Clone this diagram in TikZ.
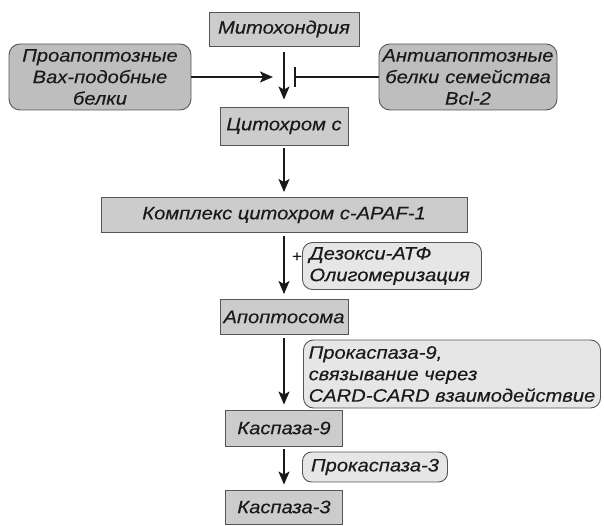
\documentclass[tikz,border=0pt]{standalone}
\usepackage{fontspec}
\setmainfont{Liberation Sans}[FakeStretch=1.12, FakeBold=0.3]
\usepackage{xcolor}
\usepackage{tikz}
\usetikzlibrary{arrows.meta}
\definecolor{boxfill}{HTML}{CCCCCC}
\definecolor{sidefill}{HTML}{BEBEBE}
\definecolor{notefill}{HTML}{E6E6E6}
\definecolor{edge}{HTML}{555555}
\definecolor{ink}{HTML}{1A1A1A}

\tikzset{
  stage/.style={draw=edge, fill=boxfill, line width=0.9pt, inner sep=0pt, text=ink},
  sidepill/.style={draw=edge, fill=sidefill, line width=0.9pt, rounded corners=11pt,
    inner xsep=3pt, inner ysep=0pt, align=center, text=ink},
  notepill/.style={draw=edge, fill=notefill, line width=0.9pt, rounded corners=10pt,
    inner ysep=0pt, align=left, text=ink},
  flow/.style={draw=ink, line width=1.8pt, -{Stealth[length=13pt,width=11pt,inset=3pt]},
    shorten <=3pt, shorten >=5pt},
  inhibit/.style={draw=ink, line width=1.8pt, -{Bar[width=20pt,line width=1.8pt]}}
}

\begin{document}
\begin{tikzpicture}[x=1pt,y=-1pt, font=\fontsize{18}{21.5}\selectfont\itshape]
\useasboundingbox (0,0) rectangle (604,526);
% main pathway
\node[stage, minimum width=150pt, minimum height=34pt] (mito) at (284,29) {Митохондрия};
\node[stage, minimum width=128pt, minimum height=38pt] (cytc) at (284,126) {Цитохром с};
\node[stage, minimum width=366pt, minimum height=35pt] (complex) at (284,215) {Комплекс цитохром с-APAF-1};
\node[stage, minimum width=128pt, minimum height=35pt] (apopt) at (284,317) {Апоптосома};
\node[stage, minimum width=117pt, minimum height=36pt] (casp9) at (284,428) {Каспаза-9};
\node[stage, minimum width=117pt, minimum height=34pt] (casp3) at (284,507) {Каспаза-3};
% regulators
\node[sidepill, text width=176pt, minimum height=66pt] (pro) at (100,77) {Проапоптозные\\Вах-подобные\\белки};
\node[sidepill, text width=172pt, minimum height=66pt] (anti) at (468,77) {Антиапоптозные\\белки семейства\\Bcl-2};
\coordinate (merge) at (273,77);
\coordinate (block) at (294,77);
% side conditions
\node[notepill, text width=165pt, inner xsep=7pt, minimum height=47pt] (dezoxy) at (392,266) {Дезокси-АТФ\\Олигомеризация};
\node[notepill, inner xsep=1pt, minimum width=297pt, minimum height=68pt] (procasp9) at (452,374) {Прокаспаза-9,\\связывание через\\CARD-CARD взаимодействие};
\node[notepill, align=center, inner xsep=0pt, minimum width=145pt, minimum height=30pt, rounded corners=9pt] (procasp3) at (375,467) {Прокаспаза-3};
\node[text=ink, font=\fontsize{15}{15}\selectfont] (plus) at (297,257) {+};

\draw[flow, shorten <=6pt, shorten >=7pt] (mito) -- (cytc);
\foreach \from/\to in {cytc/complex,complex/apopt,apopt/casp9,casp9/casp3}{
  \draw[flow] (\from) -- (\to);
}
\draw[flow, shorten <=0pt, shorten >=0pt] (pro) -- (merge);
\draw[inhibit] (anti) -- (block);
\end{tikzpicture}
\end{document}
